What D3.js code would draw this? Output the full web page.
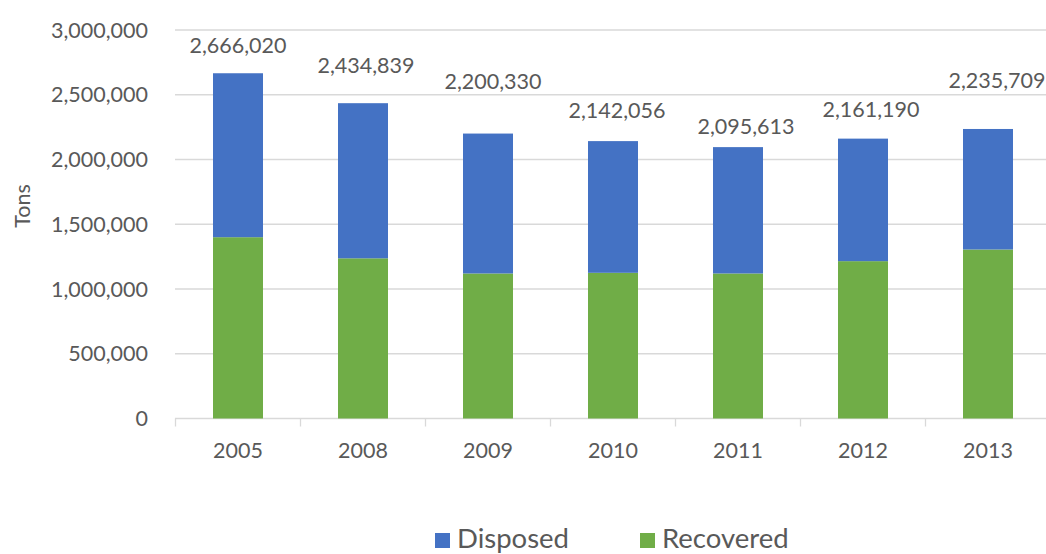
<!DOCTYPE html>
<html>
<head>
<meta charset="utf-8">
<script src="https://cdn.jsdelivr.net/npm/d3@7"></script>
<style>
  html, body { margin: 0; padding: 0; background: #fff; overflow: hidden; }
  svg { display: block; font-family: Lato, "Open Sans", sans-serif; }
</style>
</head>
<body>
<svg id="chart" width="1046" height="554"></svg>
<script>
// ---- data ----
const years = ["2005", "2008", "2009", "2010", "2011", "2012", "2013"];
const recovered = [1400000, 1237000, 1120000, 1125000, 1120000, 1215000, 1305000];
const disposed = [1266020, 1197839, 1080330, 1017056, 975613, 946190, 930709];
const totals = [2666020, 2434839, 2200330, 2142056, 2095613, 2161190, 2235709];
const yTicks = [0, 500000, 1000000, 1500000, 2000000, 2500000, 3000000];
const seriesNames = ["Disposed", "Recovered"];

// ---- layout (label placement as in the reference) ----
const labelLift = [28, 38, 52, 31, 21, 29, 49];
const labelShift = [0, 3, 5, 4, 8, 8, 9];

const colors = { Disposed: "#4472C4", Recovered: "#70AD47" };
const textColor = "#595959";

const svg = d3.select("#chart");
const x = d3.scaleBand().domain(years).range([175.5, 1050.5]).paddingInner(0.6).paddingOuter(0.3);
const y = d3.scaleLinear().domain([0, 3000000]).range([418.5, 30]);
const fmt = d3.format(",");

// gridlines
svg.append("g").selectAll("line").data(yTicks).join("line")
  .attr("x1", 175).attr("x2", 1060)
  .attr("y1", d => y(d)).attr("y2", d => y(d))
  .attr("stroke", "#d9d9d9").attr("stroke-width", 1.3);

// y tick labels
svg.append("g").selectAll("text").data(yTicks).join("text")
  .attr("x", 148).attr("y", d => y(d))
  .attr("dy", "0.36em")
  .attr("text-anchor", "end")
  .attr("fill", textColor).attr("font-size", 21.5)
  .text(d => fmt(d));

// y title
svg.append("text")
  .attr("transform", "translate(30,206) rotate(-90)")
  .attr("text-anchor", "middle")
  .attr("fill", textColor).attr("font-size", 21.5)
  .text("Tons");

// x axis ticks at band edges
const step = x.step();
const edges = d3.range(years.length + 1).map(i => x.range()[0] + i * step);
svg.append("g").selectAll("line").data(edges).join("line")
  .attr("x1", d => d).attr("x2", d => d)
  .attr("y1", y(0)).attr("y2", y(0) + 8)
  .attr("stroke", "#d9d9d9").attr("stroke-width", 1.3);

// stacked bars
const rows = years.map((yr, i) => ({ year: yr, Recovered: recovered[i], Disposed: disposed[i] }));
const stack = d3.stack().keys(["Recovered", "Disposed"])(rows);
svg.append("g").selectAll("g").data(stack).join("g")
  .attr("fill", s => colors[s.key])
  .selectAll("rect").data(s => s).join("rect")
  .attr("x", d => x(d.data.year))
  .attr("width", x.bandwidth())
  .attr("y", d => y(d[1]))
  .attr("height", d => y(d[0]) - y(d[1]));

// x labels
svg.append("g").selectAll("text").data(years).join("text")
  .attr("x", d => x(d) + x.bandwidth() / 2)
  .attr("y", 458)
  .attr("text-anchor", "middle")
  .attr("fill", textColor).attr("font-size", 21.5)
  .text(d => d);

// total labels
svg.append("g").selectAll("text").data(totals).join("text")
  .attr("x", (d, i) => x(years[i]) + x.bandwidth() / 2 + labelShift[i])
  .attr("y", (d, i) => y(d) - labelLift[i])
  .attr("dy", "0.36em")
  .attr("text-anchor", "middle")
  .attr("fill", textColor).attr("font-size", 21.5)
  .text(d => fmt(d));

// legend
const legendX = [435, 640];
const lg = svg.append("g").selectAll("g").data(seriesNames).join("g")
  .attr("transform", (d, i) => `translate(${legendX[i]},533)`);
lg.append("rect").attr("width", 15).attr("height", 15).attr("fill", d => colors[d]);
lg.append("text").attr("x", 22).attr("y", 15)
  .attr("fill", textColor).attr("font-size", 27.5)
  .text(d => d);
</script>
</body>
</html>
